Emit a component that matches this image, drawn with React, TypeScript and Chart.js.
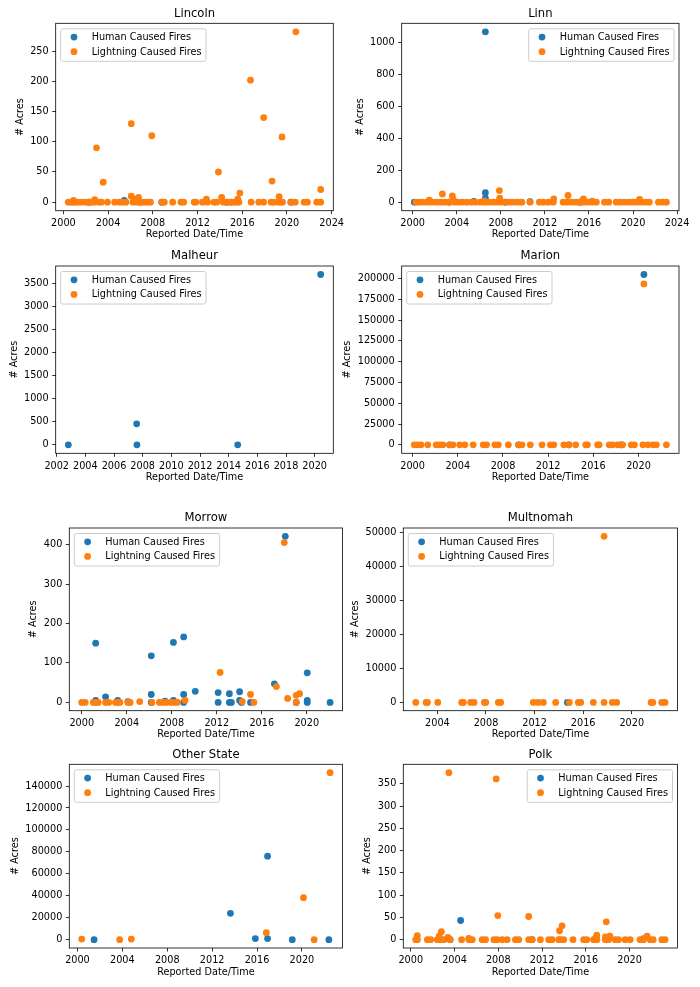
import React, { useEffect, useRef } from 'react';
import { Chart, registerables } from 'chart.js';

Chart.register(...registerables);

type Pt = [number, number];

const HUMAN_LABEL = 'Human Caused Fires';
const LIGHTNING_LABEL = 'Lightning Caused Fires';
const BLUE = '#1f77b4';
const ORANGE = '#ff7f0e';
const FONT = '"DejaVu Sans", "Liberation Sans", sans-serif';

// ---------- data: [decimal year, acres] ----------
const lincolnHuman: Pt[] = [[2002.28, 0], [2005.45, 3], [2008.8, 0], [2014.6, 0], [2020.36, 0]];
const lincolnLightning: Pt[] = [
  [2002.96, 90], [2003.56, 33], [2006.07, 130], [2007.91, 110], [2013.87, 50], [2016.74, 202],
  [2017.92, 140], [2018.67, 35], [2019.56, 108], [2020.8, 282], [2023.02, 21],
  [2006.07, 10], [2006.72, 8], [2015.79, 15], [2014.16, 8], [2019.3, 9], [2002.8, 4], [2012.8, 5],
  [2000.9, 3], [2006.4, 5], [2015.6, 5],
  [2000.44, 0], [2000.68, 0], [2000.89, 0], [2001.1, 0], [2001.3, 0], [2001.63, 0], [2002.0, 0],
  [2002.28, 0], [2002.5, 0], [2002.81, 0], [2003.2, 0], [2003.4, 0], [2003.94, 0], [2004.59, 0],
  [2005.0, 0], [2005.33, 0], [2005.6, 0], [2006.22, 0], [2006.52, 0], [2006.8, 0], [2006.96, 0],
  [2007.0, 0], [2007.32, 0], [2007.5, 0], [2007.79, 0], [2008.8, 0], [2009.03, 0], [2009.78, 0],
  [2010.52, 0], [2010.76, 0], [2011.7, 0], [2011.85, 0], [2012.44, 0], [2012.89, 0], [2013.48, 0],
  [2013.72, 0], [2014.3, 0], [2014.6, 0], [2014.96, 0], [2015.0, 0], [2015.25, 0], [2015.49, 0],
  [2015.7, 0], [2016.8, 0], [2017.48, 0], [2017.92, 0], [2018.58, 0], [2018.81, 0], [2019.2, 0],
  [2019.47, 0], [2019.6, 0], [2020.36, 0], [2020.74, 0], [2021.54, 0], [2021.83, 0], [2022.67, 0],
  [2023.02, 0],
];

const linnHuman: Pt[] = [
  [2000.15, 0], [2005.55, 5], [2006.6, 1070], [2006.6, 60], [2006.6, 25], [2010.65, 3],
  [2003.3, 0], [2008.41, 0], [2015.16, 0],
];
const linnLightning: Pt[] = [
  [2002.7, 52], [2003.6, 40], [2007.87, 73], [2007.9, 25], [2014.1, 42], [2012.8, 20], [2001.5, 12],
  [2015.5, 20], [2020.6, 18], [2003.7, 15], [2006.5, 8], [2016.3, 6],
  [2000.3, 0], [2000.6, 0], [2000.99, 0], [2001.41, 0], [2001.8, 0], [2002.19, 0], [2002.55, 0],
  [2002.91, 0], [2003.3, 0], [2003.75, 0], [2004.11, 0], [2004.5, 0], [2004.89, 0], [2005.31, 0],
  [2005.7, 0], [2006.15, 0], [2006.51, 0], [2006.9, 0], [2007.29, 0], [2007.65, 0], [2008.0, 0],
  [2008.41, 0], [2008.8, 0], [2009.15, 0], [2009.52, 0], [2009.91, 0], [2010.66, 0], [2011.5, 0],
  [2011.86, 0], [2012.31, 0], [2012.76, 0], [2013.66, 0], [2014.02, 0], [2014.41, 0], [2014.8, 0],
  [2015.16, 0], [2015.52, 0], [2015.91, 0], [2016.3, 0], [2016.67, 0], [2017.41, 0], [2017.8, 0],
  [2018.47, 0], [2018.83, 0], [2019.22, 0], [2019.6, 0], [2019.96, 0], [2020.32, 0], [2020.72, 0],
  [2021.11, 0], [2021.47, 0], [2022.31, 0], [2022.67, 0], [2023.03, 0],
];

const malheurHuman: Pt[] = [[2002.81, 0], [2007.58, 456], [2007.6, 0], [2014.63, 0], [2020.42, 3700]];
const malheurLightning: Pt[] = [];

const marionHuman: Pt[] = [[2020.48, 204800], [2003.28, 0], [2009.38, 0], [2013.84, 0], [2018.46, 0]];
const marionLightning: Pt[] = [
  [2020.48, 193500],
  [2000.15, 0], [2000.45, 0], [2000.75, 0], [2001.34, 0], [2002.09, 0], [2002.38, 0], [2002.68, 0],
  [2003.28, 0], [2003.57, 0], [2004.17, 0], [2004.62, 0], [2005.36, 0], [2006.25, 0], [2006.55, 0],
  [2007.29, 0], [2007.59, 0], [2008.48, 0], [2009.38, 0], [2009.68, 0], [2010.42, 0], [2011.46, 0],
  [2012.2, 0], [2012.5, 0], [2013.39, 0], [2013.84, 0], [2014.44, 0], [2015.33, 0], [2015.48, 0],
  [2016.38, 0], [2016.52, 0], [2017.41, 0], [2017.71, 0], [2018.16, 0], [2018.46, 0], [2018.6, 0],
  [2019.35, 0], [2019.64, 0], [2020.39, 0], [2020.84, 0], [2021.29, 0], [2021.58, 0], [2022.47, 0],
];

const morrowHuman: Pt[] = [
  [2001.24, 150], [2001.24, 5], [2002.12, 14], [2003.2, 5], [2004.1, 2], [2006.18, 118], [2006.18, 20],
  [2006.18, 0], [2007.4, 3], [2008.15, 152], [2008.15, 5], [2009.06, 166], [2009.06, 20], [2009.06, 0],
  [2010.09, 28], [2012.12, 25], [2012.12, 0], [2013.12, 22], [2013.12, 0], [2013.3, 0], [2014.03, 27],
  [2014.03, 5], [2014.2, 0], [2015.0, 0], [2017.12, 47], [2018.09, 421], [2019.06, 0], [2020.04, 75],
  [2020.04, 5], [2020.04, 0], [2022.07, 0],
];
const morrowLightning: Pt[] = [
  [2000.0, 0], [2000.3, 0], [2001.03, 0], [2001.25, 0], [2001.47, 0], [2002.12, 0], [2002.4, 0],
  [2003.0, 0], [2003.2, 0], [2003.4, 0], [2004.1, 0], [2004.3, 0], [2005.15, 2], [2006.24, 0],
  [2006.9, 0], [2007.2, 0], [2007.5, 0], [2007.9, 0], [2008.2, 0], [2008.5, 0], [2009.18, 5],
  [2012.3, 76], [2014.27, 2], [2015.0, 20], [2015.3, 0], [2017.3, 40], [2018.0, 405], [2018.3, 10],
  [2019.06, 18], [2019.36, 22], [2019.06, 0],
];

const multnomahHuman: Pt[] = [[2014.7, 0]];
const multnomahLightning: Pt[] = [
  [2017.72, 48900],
  [2002.22, 0], [2003.07, 0], [2003.18, 0], [2004.03, 0], [2006.0, 0], [2006.14, 0], [2006.74, 0],
  [2007.02, 0], [2007.87, 0], [2007.98, 0], [2009.02, 0], [2009.21, 0], [2011.9, 0], [2012.31, 0],
  [2012.72, 0], [2013.74, 0], [2014.86, 0], [2015.6, 0], [2015.8, 0], [2016.84, 0], [2017.72, 0],
  [2018.4, 0], [2018.76, 0], [2021.59, 0], [2021.73, 0], [2022.47, 0], [2022.74, 0],
];

const otherStateHuman: Pt[] = [
  [2001.48, 0], [2013.63, 24000], [2015.85, 1000], [2016.94, 76100], [2016.94, 1000], [2019.14, 0],
  [2022.4, 0],
];
const otherStateLightning: Pt[] = [
  [2000.38, 500], [2003.76, 0], [2004.8, 500], [2016.83, 6400], [2020.14, 38300], [2021.09, 0],
  [2022.51, 152200],
];

const polkHuman: Pt[] = [[2004.56, 43], [2003.6, 0], [2011.09, 0]];
const polkLightning: Pt[] = [
  [2003.49, 375], [2007.81, 361], [2007.96, 54], [2010.78, 52], [2013.83, 31], [2013.6, 20],
  [2017.87, 40], [2002.8, 18], [2000.6, 9], [2017.0, 10], [2021.6, 8], [2018.2, 8], [2002.6, 8],
  [2003.4, 5], [2005.3, 3], [2016.9, 4], [2017.8, 6], [2021.3, 3],
  [2000.46, 0], [2000.61, 0], [2001.52, 0], [2001.82, 0], [2002.43, 0], [2002.73, 0], [2003.04, 0],
  [2003.59, 0], [2004.65, 0], [2005.32, 0], [2005.62, 0], [2006.53, 0], [2006.84, 0], [2007.6, 0],
  [2007.9, 0], [2008.36, 0], [2008.81, 0], [2009.57, 0], [2009.87, 0], [2010.78, 0], [2011.09, 0],
  [2011.85, 0], [2012.61, 0], [2012.92, 0], [2013.52, 0], [2013.67, 0], [2013.98, 0], [2014.83, 0],
  [2015.8, 0], [2016.1, 0], [2016.71, 0], [2017.02, 0], [2017.78, 0], [2018.08, 0], [2018.69, 0],
  [2018.99, 0], [2019.6, 0], [2020.05, 0], [2020.96, 0], [2021.27, 0], [2021.88, 0], [2022.16, 0],
  [2022.94, 0], [2023.24, 0],
];

// ---------- tick labels ----------
const years2000to2024 = [2000, 2004, 2008, 2012, 2016, 2020, 2024];
const years2000to2020 = [2000, 2004, 2008, 2012, 2016, 2020];
const years2004to2020 = [2004, 2008, 2012, 2016, 2020];
const years2002to2020 = [2002, 2004, 2006, 2008, 2010, 2012, 2014, 2016, 2018, 2020];
const lincolnAcreTicks = [0, 50, 100, 150, 200, 250];
const linnAcreTicks = [0, 200, 400, 600, 800, 1000];
const malheurAcreTicks = [0, 500, 1000, 1500, 2000, 2500, 3000, 3500];
const marionAcreTicks = [0, 25000, 50000, 75000, 100000, 125000, 150000, 175000, 200000];
const morrowAcreTicks = [0, 100, 200, 300, 400];
const multnomahAcreTicks = [0, 10000, 20000, 30000, 40000, 50000];
const otherStateAcreTicks = [0, 20000, 40000, 60000, 80000, 100000, 120000, 140000];
const polkAcreTicks = [0, 50, 100, 150, 200, 250, 300, 350];

interface PanelCfg {
  title: string;
  human: Pt[];
  lightning: Pt[];
  xTicks: number[];
  yTicks: number[];
  legend: 'left' | 'right';
  box: [number, number, number, number];
}

const panels: PanelCfg[] = [
  { title: 'Lincoln', human: lincolnHuman, lightning: lincolnLightning, xTicks: years2000to2024, yTicks: lincolnAcreTicks, legend: 'left', box: [55.7, 23.3, 333.3, 210.7] },
  { title: 'Linn', human: linnHuman, lightning: linnLightning, xTicks: years2000to2024, yTicks: linnAcreTicks, legend: 'right', box: [401.7, 23.3, 679, 210.7] },
  { title: 'Malheur', human: malheurHuman, lightning: malheurLightning, xTicks: years2002to2020, yTicks: malheurAcreTicks, legend: 'left', box: [55.7, 266, 333.3, 453.3] },
  { title: 'Marion', human: marionHuman, lightning: marionLightning, xTicks: years2000to2020, yTicks: marionAcreTicks, legend: 'left', box: [401.7, 266, 679, 453.3] },
  { title: 'Morrow', human: morrowHuman, lightning: morrowLightning, xTicks: years2000to2020, yTicks: morrowAcreTicks, legend: 'left', box: [69.3, 528, 342.5, 710.7] },
  { title: 'Multnomah', human: multnomahHuman, lightning: multnomahLightning, xTicks: years2004to2020, yTicks: multnomahAcreTicks, legend: 'left', box: [403.3, 528, 677.5, 710.7] },
  { title: 'Other State', human: otherStateHuman, lightning: otherStateLightning, xTicks: years2000to2020, yTicks: otherStateAcreTicks, legend: 'left', box: [69.3, 764.3, 342.5, 948] },
  { title: 'Polk', human: polkHuman, lightning: polkLightning, xTicks: years2000to2020, yTicks: polkAcreTicks, legend: 'right', box: [403.3, 764.3, 677.5, 948] },
];

function padRange(vals: number[]): [number, number] {
  const lo = Math.min(...vals);
  const hi = Math.max(...vals);
  const span = hi - lo || 1;
  return [lo - 0.05 * span, hi + 0.05 * span];
}

function makeDecor(cfg: PanelCfg) {
  return {
    id: 'decor',
    afterDraw(chart: any) {
      const ctx: CanvasRenderingContext2D = chart.ctx;
      const a = chart.chartArea;
      ctx.save();
      ctx.strokeStyle = '#000';
      ctx.lineWidth = 0.8;
      ctx.strokeRect(a.left, a.top, a.right - a.left, a.bottom - a.top);

      ctx.fillStyle = '#000';
      ctx.textAlign = 'center';
      ctx.textBaseline = 'middle';
      ctx.font = `11.6px ${FONT}`;
      ctx.fillText(cfg.title, (a.left + a.right) / 2, a.top - 9.7);
      ctx.font = `9.7px ${FONT}`;
      ctx.fillText('Reported Date/Time', (a.left + a.right) / 2, a.bottom + 24);
      const maxW = Math.max(...cfg.yTicks.map((v) => ctx.measureText(String(v)).width));
      ctx.save();
      ctx.translate(a.left - maxW - 17, (a.top + a.bottom) / 2);
      ctx.rotate(-Math.PI / 2);
      ctx.fillText('# Acres', 0, 0);
      ctx.restore();

      // legend
      const labels = [HUMAN_LABEL, LIGHTNING_LABEL];
      const colors = [BLUE, ORANGE];
      const tw = Math.max(...labels.map((s) => ctx.measureText(s).width));
      const w = 31 + tw + 4.5;
      const h = 32.5;
      const x0 = cfg.legend === 'left' ? a.left + 5 : a.right - 5 - w;
      const y0 = a.top + 5.5;
      const rr = 2;
      ctx.beginPath();
      ctx.moveTo(x0 + rr, y0);
      ctx.lineTo(x0 + w - rr, y0);
      ctx.quadraticCurveTo(x0 + w, y0, x0 + w, y0 + rr);
      ctx.lineTo(x0 + w, y0 + h - rr);
      ctx.quadraticCurveTo(x0 + w, y0 + h, x0 + w - rr, y0 + h);
      ctx.lineTo(x0 + rr, y0 + h);
      ctx.quadraticCurveTo(x0, y0 + h, x0, y0 + h - rr);
      ctx.lineTo(x0, y0 + rr);
      ctx.quadraticCurveTo(x0, y0, x0 + rr, y0);
      ctx.closePath();
      ctx.fillStyle = 'rgba(255,255,255,0.8)';
      ctx.fill();
      ctx.strokeStyle = '#cccccc';
      ctx.lineWidth = 1;
      ctx.stroke();
      ctx.textAlign = 'left';
      labels.forEach((s, i) => {
        const cy = y0 + 8.3 + i * 14.6;
        ctx.beginPath();
        ctx.arc(x0 + 13.3, cy, 3.4, 0, Math.PI * 2);
        ctx.fillStyle = colors[i];
        ctx.fill();
        ctx.fillStyle = '#000';
        ctx.fillText(s, x0 + 31, cy + 0.5);
      });
      ctx.restore();
    },
  };
}

function Panel({ cfg }: { cfg: PanelCfg }) {
  const ref = useRef<HTMLCanvasElement>(null);
  const [l, t, r, b] = cfg.box;
  const cl = Math.floor(l) - 70;
  const ct = Math.floor(t) - 28;
  const cw = Math.ceil(r) + 24 - cl;
  const ch = Math.ceil(b) + 38 - ct;
  const padL = l - cl;
  const padT = t - ct;
  const padR = cl + cw - r;
  const padB = ct + ch - b;

  useEffect(() => {
    if (!ref.current) return;
    const all = [...cfg.human, ...cfg.lightning];
    const [xMin, xMax] = padRange(all.map((p) => p[0]));
    const [yMin, yMax] = padRange(all.map((p) => p[1]));
    const tickFont = { family: FONT, size: 9.7 };
    const chart = new Chart(ref.current, {
      type: 'scatter',
      data: {
        datasets: [
          {
            label: HUMAN_LABEL,
            data: cfg.human.map(([x, y]) => ({ x, y })),
            backgroundColor: BLUE,
            borderWidth: 0,
            pointRadius: 3.4,
            order: 2,
          },
          {
            label: LIGHTNING_LABEL,
            data: cfg.lightning.map(([x, y]) => ({ x, y })),
            backgroundColor: ORANGE,
            borderWidth: 0,
            pointRadius: 3.4,
            order: 1,
          },
        ],
      },
      options: {
        animation: false,
        responsive: false,
        maintainAspectRatio: false,
        devicePixelRatio: 1,
        layout: { padding: { left: 0, top: padT, right: padR, bottom: 0 } },
        plugins: { legend: { display: false }, tooltip: { enabled: false }, title: { display: false } },
        scales: {
          x: {
            type: 'linear',
            min: xMin,
            max: xMax,
            bounds: 'data',
            afterBuildTicks: (s: any) => { s.ticks = cfg.xTicks.map((v) => ({ value: v })); },
            afterFit: (s: any) => { s.height = padB; },
            ticks: { callback: (v: any) => String(v), font: tickFont, color: '#000', padding: 3.5, maxRotation: 0, minRotation: 0, autoSkip: false },
            grid: { drawOnChartArea: false, drawTicks: true, tickLength: 3.5, color: '#000', lineWidth: 0.8 },
            border: { display: false },
          },
          y: {
            type: 'linear',
            min: yMin,
            max: yMax,
            bounds: 'data',
            afterBuildTicks: (s: any) => { s.ticks = cfg.yTicks.map((v) => ({ value: v })); },
            afterFit: (s: any) => { s.width = padL; },
            ticks: { callback: (v: any) => String(v), font: tickFont, color: '#000', padding: 3.5, autoSkip: false },
            grid: { drawOnChartArea: false, drawTicks: true, tickLength: 3.5, color: '#000', lineWidth: 0.8 },
            border: { display: false },
          },
        },
      } as any,
      plugins: [makeDecor(cfg)],
    });
    return () => chart.destroy();
  }, []);

  return (
    <canvas
      ref={ref}
      width={cw}
      height={ch}
      style={{ position: 'absolute', left: cl, top: ct, width: cw, height: ch }}
    />
  );
}

export default function App() {
  return (
    <div
      style={{
        position: 'absolute',
        left: 0,
        top: 0,
        width: 700,
        height: 987,
        overflow: 'hidden',
        background: '#fff',
      }}
    >
      {panels.map((p) => (
        <Panel key={p.title} cfg={p} />
      ))}
    </div>
  );
}
